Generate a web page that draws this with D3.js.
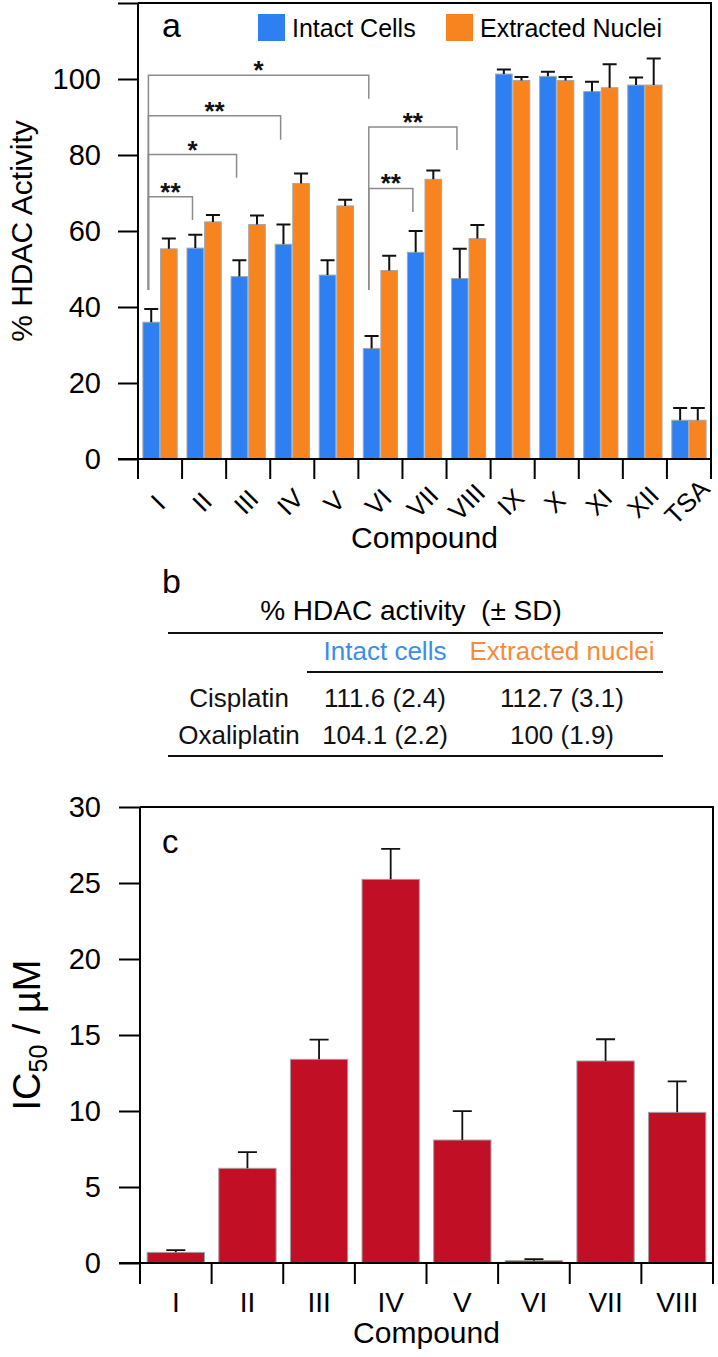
<!DOCTYPE html>
<html>
<head>
<meta charset="utf-8">
<script src="https://cdn.jsdelivr.net/npm/d3@7"></script>
<style>
  html, body { margin: 0; padding: 0; background: #fff; }
  svg { display: block; font-family: "Liberation Sans", Arial, Helvetica, sans-serif; }
</style>
</head>
<body>
<svg id="chart" width="718" height="1357"></svg>
<script>
// ---------- Panel a data ----------
const compoundsA = ["I","II","III","IV","V","VI","VII","VIII","IX","X","XI","XII","TSA"];
const seriesNames = ["Intact Cells","Extracted Nuclei"];
const intactVals = [36.0, 55.5, 48.0, 56.5, 48.4, 29.1, 54.4, 47.5, 101.3, 100.7, 96.7, 98.4, 10.2];
const intactErr  = [3.5, 3.5, 4.3, 5.2, 3.9, 3.3, 5.6, 7.8, 1.2, 1.2, 2.6, 2.0, 3.2];
const nucleiVals = [55.3, 62.4, 61.7, 72.5, 66.6, 49.6, 73.6, 58.0, 99.6, 99.6, 97.7, 98.4, 10.2];
const nucleiErr  = [2.7, 1.8, 2.4, 2.6, 1.6, 3.9, 2.3, 3.6, 0.9, 0.9, 6.2, 7.0, 3.2];
const yTicksA = [0, 20, 40, 60, 80, 100, 120];
const yTickLabelsA = ["0","20","40","60","80","100",""];
// significance brackets
const bracketFrom  = ["I","I","I","I","VI","VI"];
const bracketTo    = ["II","III","IV","VI","VII","VIII"];
const bracketLevel = [69, 80.1, 90.3, 101, 71.2, 87.4];
const bracketFromEnd = [44.5, 44.5, 44.5, 44.5, 44.5, 44.5];
const bracketToEnd = [62.9, 74, 84, 94.8, 65, 81.3];
const bracketLabel = ["**","*","**","*","**","**"];

// ---------- Panel b data ----------
const tableTitle = "% HDAC activity  (\u00B1 SD)";
const tableHeaders = ["Intact cells","Extracted nuclei"];
const tableRows = ["Cisplatin","Oxaliplatin"];
const tableIntact = ["111.6 (2.4)","104.1 (2.2)"];
const tableNuclei = ["112.7 (3.1)","100 (1.9)"];

// ---------- Panel c data ----------
const compoundsC = ["I","II","III","IV","V","VI","VII","VIII"];
const ic50Vals = [0.70, 6.23, 13.4, 25.24, 8.09, 0.15, 13.29, 9.91];
const ic50Err  = [0.15, 1.07, 1.3, 2.0, 1.9, 0.1, 1.43, 2.04];
const yTicksC = [0, 5, 10, 15, 20, 25, 30];

// ---------- styles ----------
const BLUE = "#2e7ff2", ORANGE = "#f88420", RED = "#c10f26";
const svg = d3.select("#chart");

// ================= Panel a =================
const A = {left: 138, right: 711, top: 3, bottom: 459};
const xA = d3.scaleBand().domain(compoundsA).range([A.left, A.right]).paddingInner(0.2).paddingOuter(0.1);
const xSub = d3.scaleBand().domain(seriesNames).range([0, xA.bandwidth()]);
const yA = d3.scaleLinear().domain([0, 120]).range([A.bottom, A.top]);

const gA = svg.append("g");
const dataA = compoundsA.map((c, i) => ({c, vals: [
  {s: seriesNames[0], v: intactVals[i], e: intactErr[i], col: BLUE},
  {s: seriesNames[1], v: nucleiVals[i], e: nucleiErr[i], col: ORANGE}
]}));

const groups = gA.selectAll("g.grp").data(dataA).join("g")
  .attr("transform", d => `translate(${xA(d.c)},0)`);
groups.selectAll("rect").data(d => d.vals).join("rect")
  .attr("x", d => xSub(d.s) + 0.5)
  .attr("y", d => yA(d.v))
  .attr("width", xSub.bandwidth() - 1)
  .attr("height", d => yA(0) - yA(d.v))
  .attr("fill", d => d.col)
  .attr("stroke", "#a3a7ad").attr("stroke-width", 1);
// error bars
groups.selectAll("path.err").data(d => d.vals).join("path")
  .attr("class", "err")
  .attr("d", d => {
    const cx = xSub(d.s) + xSub.bandwidth() / 2;
    const y1 = yA(d.v), y2 = yA(d.v + d.e);
    return `M${cx},${y1}V${y2}M${cx - 7},${y2}H${cx + 7}`;
  })
  .attr("fill", "none").attr("stroke", "#111").attr("stroke-width", 2);

// brackets
const bx = c => xA(c) + 6;
bracketFrom.forEach((f, i) => {
  const x1 = bx(f), x2 = bx(bracketTo[i]), yl = yA(bracketLevel[i]);
  gA.append("path")
    .attr("d", `M${x1},${yA(bracketFromEnd[i])}V${yl}H${x2}V${yA(bracketToEnd[i])}`)
    .attr("fill", "none").attr("stroke", "#8c8c8c").attr("stroke-width", 1.5);
  gA.append("text").attr("x", (x1 + x2) / 2).attr("y", yl + 4)
    .attr("text-anchor", "middle").attr("font-size", 26).attr("font-weight", "bold").attr("fill", "#111")
    .text(bracketLabel[i]);
});

// y axis
const axA = d3.axisLeft(yA).tickValues(yTicksA).tickSize(20).tickPadding(17)
  .tickFormat((d, i) => yTickLabelsA[i]);
const gyA = gA.append("g").attr("transform", `translate(${A.left},0)`).call(axA);
gyA.select(".domain").remove();
gyA.selectAll("line").attr("stroke", "#000").attr("stroke-width", 2);
gyA.selectAll("text").attr("font-size", 29).attr("fill", "#000").attr("font-family", "Liberation Sans, Arial, sans-serif");

// x ticks at group boundaries
const stepA = xA.step();
const xTickPosA = compoundsA.map(c => xA(c) - stepA * 0.1).concat([A.right]);
gA.selectAll("line.xt").data(xTickPosA).join("line")
  .attr("x1", d => d).attr("x2", d => d).attr("y1", A.bottom).attr("y2", A.bottom + 20)
  .attr("stroke", "#000").attr("stroke-width", 2);
// frame
gA.append("path")
  .attr("d", `M${A.left},${A.top}V${A.bottom}M${A.left - 20},${A.bottom}H${A.right}V${A.top}H${A.left}`)
  .attr("fill", "none").attr("stroke", "#000").attr("stroke-width", 2);

// x labels (rotated)
gA.selectAll("text.xl").data(compoundsA).join("text")
  .attr("class", "xl")
  .attr("transform", c => `translate(${xA(c) + xA.bandwidth() / 2 - 2},${502}) rotate(-45)`)
  .attr("text-anchor", "middle").attr("dominant-baseline", "central")
  .attr("font-size", 26).attr("fill", "#000").text(c => c);

gA.append("text").attr("x", (A.left + A.right) / 2).attr("y", 548)
  .attr("text-anchor", "middle").attr("font-size", 30).attr("fill", "#000").text("Compound");
gA.append("text").attr("transform", `translate(32,${(A.top + A.bottom) / 2}) rotate(-90)`)
  .attr("text-anchor", "middle").attr("font-size", 30).attr("fill", "#000").text("% HDAC Activity");
gA.append("text").attr("x", 162).attr("y", 37).attr("font-size", 34).attr("fill", "#000").text("a");

// legend
const legX = [258, 446];
seriesNames.forEach((s, i) => {
  gA.append("rect").attr("x", legX[i]).attr("y", 14).attr("width", 27).attr("height", 27)
    .attr("fill", i === 0 ? BLUE : ORANGE);
  gA.append("text").attr("x", legX[i] + 34).attr("y", 37).attr("font-size", 25)
    .attr("fill", "#000").text(s);
});

// ================= Panel b (table) =================
const gB = svg.append("g");
gB.append("text").attr("x", 162).attr("y", 593).attr("font-size", 34).attr("fill", "#000").text("b");
gB.append("text").attr("x", 411).attr("y", 620).attr("text-anchor", "middle")
  .attr("font-size", 28).attr("fill", "#000").style("white-space", "pre").text(tableTitle);
const colX = [385, 562];
const headColors = ["#3a8ee9", "#f68b3a"];
gB.append("line").attr("x1", 168).attr("x2", 663).attr("y1", 633).attr("y2", 633).attr("stroke", "#111").attr("stroke-width", 2);
tableHeaders.forEach((h, i) => {
  gB.append("text").attr("x", colX[i]).attr("y", 660).attr("text-anchor", "middle")
    .attr("font-size", 26).attr("fill", headColors[i]).text(h);
});
gB.append("line").attr("x1", 307).attr("x2", 663).attr("y1", 672).attr("y2", 672).attr("stroke", "#111").attr("stroke-width", 2);
tableRows.forEach((r, i) => {
  const yy = 707 + i * 36.5;
  gB.append("text").attr("x", 239).attr("y", yy).attr("text-anchor", "middle").attr("font-size", 26).attr("fill", "#111").text(r);
  gB.append("text").attr("x", colX[0]).attr("y", yy).attr("text-anchor", "middle").attr("font-size", 26).attr("fill", "#111").text(tableIntact[i]);
  gB.append("text").attr("x", colX[1]).attr("y", yy).attr("text-anchor", "middle").attr("font-size", 26).attr("fill", "#111").text(tableNuclei[i]);
});
gB.append("line").attr("x1", 168).attr("x2", 663).attr("y1", 756).attr("y2", 756).attr("stroke", "#111").attr("stroke-width", 2);

// ================= Panel c =================
const C = {left: 140, right: 713, top: 807, bottom: 1263};
const xC = d3.scaleBand().domain(compoundsC).range([C.left, C.right]).paddingInner(0.2).paddingOuter(0.1);
const yC = d3.scaleLinear().domain([0, 30]).range([C.bottom, C.top]);
const gC = svg.append("g");
const dataC = compoundsC.map((c, i) => ({c, v: ic50Vals[i], e: ic50Err[i]}));
gC.selectAll("rect").data(dataC).join("rect")
  .attr("x", d => xC(d.c)).attr("y", d => yC(d.v))
  .attr("width", xC.bandwidth()).attr("height", d => yC(0) - yC(d.v))
  .attr("fill", RED).attr("stroke", "#a39ca8").attr("stroke-width", 1);
gC.selectAll("path.err").data(dataC).join("path")
  .attr("d", d => {
    const cx = xC(d.c) + xC.bandwidth() / 2, y1 = yC(d.v), y2 = yC(d.v + d.e);
    return `M${cx},${y1}V${y2}M${cx - 9.5},${y2}H${cx + 9.5}`;
  })
  .attr("fill", "none").attr("stroke", "#111").attr("stroke-width", 1.8);

const axC = d3.axisLeft(yC).tickValues(yTicksC).tickSize(21).tickPadding(18).tickFormat(d3.format("d"));
const gyC = gC.append("g").attr("transform", `translate(${C.left},0)`).call(axC);
gyC.select(".domain").remove();
gyC.selectAll("line").attr("stroke", "#000").attr("stroke-width", 2);
gyC.selectAll("text").attr("font-size", 29).attr("fill", "#000").attr("font-family", "Liberation Sans, Arial, sans-serif");

const stepC = xC.step();
const xTickPosC = compoundsC.map(c => xC(c) - stepC * 0.1).concat([C.right]);
gC.selectAll("line.xt").data(xTickPosC).join("line")
  .attr("x1", d => d).attr("x2", d => d).attr("y1", C.bottom).attr("y2", C.bottom + 21)
  .attr("stroke", "#000").attr("stroke-width", 2);
gC.append("path")
  .attr("d", `M${C.left},${C.top}V${C.bottom}M${C.left - 21},${C.bottom}H${C.right}V${C.top}H${C.left}`)
  .attr("fill", "none").attr("stroke", "#000").attr("stroke-width", 2);

gC.selectAll("text.xl").data(compoundsC).join("text")
  .attr("x", c => xC(c) + xC.bandwidth() / 2).attr("y", 1312)
  .attr("text-anchor", "middle").attr("font-size", 28).attr("fill", "#000").text(c => c);
gC.append("text").attr("x", (C.left + C.right) / 2).attr("y", 1343)
  .attr("text-anchor", "middle").attr("font-size", 30).attr("fill", "#000").text("Compound");
gC.append("text").attr("x", 162).attr("y", 853).attr("font-size", 33).attr("fill", "#000").text("c");

const yl = gC.append("text").attr("transform", `translate(40,${(C.top + C.bottom) / 2}) rotate(-90)`)
  .attr("text-anchor", "middle").attr("font-size", 38).attr("fill", "#000");
yl.append("tspan").text("IC");
yl.append("tspan").attr("font-size", 25).attr("dy", 7).text("50");
yl.append("tspan").attr("dy", -7).text(" / \u00B5M");
</script>
</body>
</html>
